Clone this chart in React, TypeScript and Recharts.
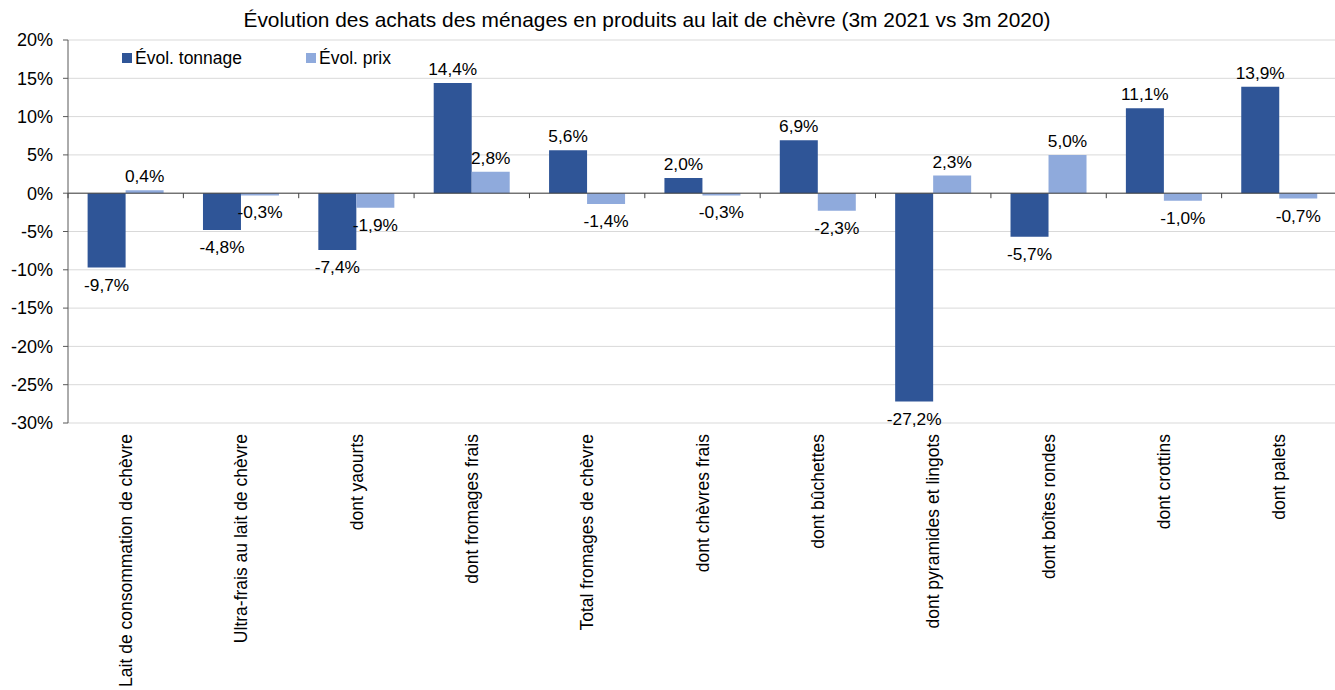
import React from "react";
import {
  BarChart,
  Bar,
  XAxis,
  YAxis,
  CartesianGrid,
  ReferenceLine,
  Legend,
  LabelList,
} from "recharts";

const categories = [
  "Lait de consommation de chèvre",
  "Ultra-frais au lait de chèvre",
  "dont yaourts",
  "dont fromages frais",
  "Total fromages de chèvre",
  "dont chèvres frais",
  "dont bûchettes",
  "dont pyramides et lingots",
  "dont boîtes rondes",
  "dont crottins",
  "dont palets",
];

const seriesNames = ["Évol. tonnage", "Évol. prix"];
const tonnage = [-9.7, -4.8, -7.4, 14.4, 5.6, 2.0, 6.9, -27.2, -5.7, 11.1, 13.9];
const prix = [0.4, -0.3, -1.9, 2.8, -1.4, -0.3, -2.3, 2.3, 5.0, -1.0, -0.7];

const yTicks = [-30, -25, -20, -15, -10, -5, 0, 5, 10, 15, 20];

const TITLE =
  "Évolution des achats des ménages en produits au lait de chèvre (3m 2021 vs 3m 2020)";

const FONT = '"Liberation Sans", Arial, sans-serif';
const DARK = "#2F5597";
const LIGHT = "#8FAADC";

// layout
const CHART_W = 1345;
const CHART_H = 690;
const MARGIN = { top: 40, right: 8, bottom: 0, left: 0 };
const Y_AXIS_W = 68;
const X_AXIS_H = 267;
const PLOT_W = CHART_W - MARGIN.left - MARGIN.right - Y_AXIS_W;
const PLOT_H = CHART_H - MARGIN.top - MARGIN.bottom - X_AXIS_H;
const PLOT_BOTTOM = MARGIN.top + PLOT_H;
const Y_MIN = yTicks[0];
const Y_MAX = yTicks[yTicks.length - 1];
const ZERO_Y = MARGIN.top + (Y_MAX / (Y_MAX - Y_MIN)) * PLOT_H;
const BAND = PLOT_W / categories.length;

const rows = categories.map((name, i) => ({
  name,
  tonnage: tonnage[i],
  prix: prix[i],
}));

const fmt = (v: number) => `${v.toFixed(1).replace(".", ",")}%`;

function BarValueLabel(props: any) {
  const vb = props.viewBox || {};
  const x = Number(vb.x ?? props.x);
  const y = Number(vb.y ?? props.y);
  const w = Number(vb.width ?? props.width);
  const h = Number(vb.height ?? props.height);
  const value = Number(props.value);
  const top = Math.min(y, y + h);
  const bottom = Math.max(y, y + h);
  const ty = value >= 0 ? top - 8 : bottom + 23;
  return (
    <text
      x={x + w / 2}
      y={ty}
      textAnchor="middle"
      fontSize={17.3}
      fontFamily={FONT}
      fill="#000"
    >
      {fmt(value)}
    </text>
  );
}

function CategoryTick(props: any) {
  const { x, payload } = props;
  const left = x - BAND / 2;
  return (
    <g>
      <line x1={left} x2={left} y1={ZERO_Y} y2={ZERO_Y + 5} stroke="#404040" />
      <text
        transform={`translate(${x},${PLOT_BOTTOM + 11}) rotate(-90)`}
        textAnchor="end"
        dy="0.35em"
        fontSize={17.5}
        fontFamily={FONT}
        fill="#000"
      >
        {payload.value}
      </text>
    </g>
  );
}

function LegendContent(props: any) {
  const items = [...(props.payload || [])].sort(
    (a: any, b: any) => seriesNames.indexOf(a.value) - seriesNames.indexOf(b.value)
  );
  return (
    <div style={{ display: "flex", fontFamily: FONT, fontSize: 17.5, lineHeight: "20px" }}>
      {items.map((entry: any) => (
        <div
          key={entry.value}
          style={{ display: "flex", alignItems: "center", width: 184, color: "#000" }}
        >
          <span
            style={{
              display: "inline-block",
              width: 10,
              height: 10,
              background: entry.color,
              marginRight: 3,
            }}
          />
          {entry.value}
        </div>
      ))}
    </div>
  );
}

export default function App() {
  return (
    <div
      style={{
        position: "absolute",
        left: 0,
        top: 0,
        width: 1335,
        height: 690,
        overflow: "hidden",
        background: "#fff",
      }}
    >
      <div
        style={{
          position: "absolute",
          left: 0,
          top: 10.4,
          width: 1294,
          textAlign: "center",
          fontFamily: FONT,
          fontSize: 20.9,
          lineHeight: 1,
          color: "#000",
          whiteSpace: "nowrap",
        }}
      >
        {TITLE}
      </div>
      <BarChart
        width={CHART_W}
        height={CHART_H}
        data={rows}
        margin={MARGIN}
        barCategoryGap="17%"
        barGap={0}
      >
        <CartesianGrid vertical={false} stroke="#D9D9D9" />
        <XAxis
          dataKey="name"
          interval={0}
          axisLine={false}
          tickLine={false}
          height={X_AXIS_H}
          tick={<CategoryTick />}
        />
        <YAxis
          width={Y_AXIS_W}
          domain={[Y_MIN, Y_MAX]}
          ticks={yTicks}
          allowDataOverflow
          tickFormatter={(v: number) => `${v}%`}
          axisLine={{ stroke: "#595959" }}
          tickLine={{ stroke: "#595959" }}
          tickSize={5}
          tickMargin={10}
          tick={{ fontSize: 18, fontFamily: FONT, fill: "#000" }}
        />
        <Legend
          layout="horizontal"
          verticalAlign="middle"
          align="center"
          wrapperStyle={{ top: 48, left: 122, width: "auto" }}
          content={<LegendContent />}
        />
        <Bar dataKey="tonnage" name={seriesNames[0]} fill={DARK} isAnimationActive={false}>
          <LabelList dataKey="tonnage" content={<BarValueLabel />} />
        </Bar>
        <Bar dataKey="prix" name={seriesNames[1]} fill={LIGHT} isAnimationActive={false}>
          <LabelList dataKey="prix" content={<BarValueLabel />} />
        </Bar>
        <ReferenceLine y={0} stroke="#404040" />
      </BarChart>
    </div>
  );
}
